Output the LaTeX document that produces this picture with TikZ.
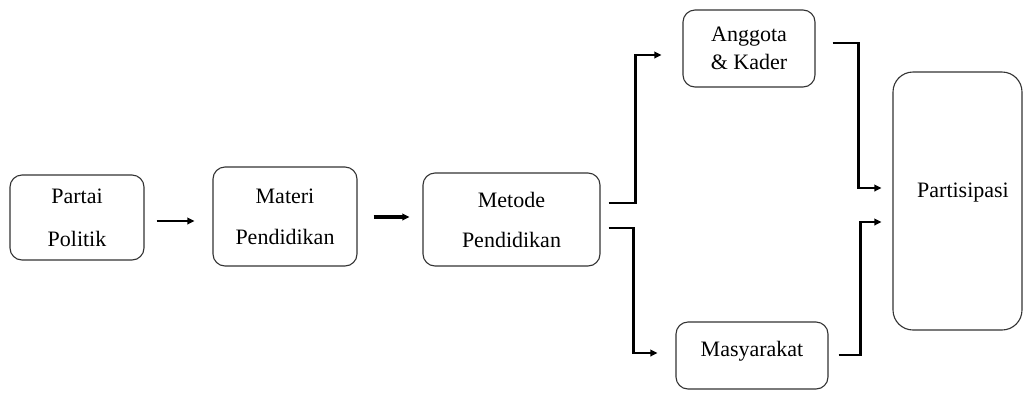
\documentclass[tikz,border=0pt]{standalone}
\usepackage{fontspec}
\setmainfont{Liberation Serif}
\usetikzlibrary{arrows.meta}
\begin{document}
\begin{tikzpicture}[x=1pt,y=-1pt,
  box/.style={draw=black!80, line width=1.1pt, rounded corners=12pt, inner sep=0pt, align=center},
  txt/.style={inner sep=0pt, align=center},
  conn/.style={line width=2.6pt, -{Triangle[length=7pt,width=6.5pt]}},
]
\useasboundingbox (0,0) rectangle (1026,392);
\fill[white] (0,0) rectangle (1026,392);

\node[box, minimum width=134pt, minimum height=85pt, font=\fontsize{22}{43}\selectfont] (pp) at (77,217.5) {Partai\\Politik};
\node[box, minimum width=144pt, minimum height=99pt, font=\fontsize{22}{41}\selectfont] (mat) at (285,216.5) {Materi\\Pendidikan};
\node[box, minimum width=177pt, minimum height=93pt, font=\fontsize{22}{40}\selectfont] (met) at (511.5,219.5) {Metode\\Pendidikan};
\node[box, minimum width=132pt, minimum height=77pt, font=\fontsize{22}{28}\selectfont] (ang) at (749,48.5) {Anggota\\\& Kader};
\node[box, minimum width=152pt, minimum height=67pt] (mas) at (752,355.5) {};
\node[txt, font=\fontsize{22}{24}\selectfont] (mastxt) at (752,351) {Masyarakat};
\node[box, rounded corners=20pt, minimum width=129pt, minimum height=258pt] (part) at (957.5,201) {};
\node[txt, font=\fontsize{22}{24}\selectfont] (parttxt) at (963,193) {Partisipasi};

\draw[conn, line width=2.8pt] ([shift={(12,3.5)}]pp.east) -- ([shift={(-18,4.5)}]mat.west);
\draw[conn, line width=3.4pt] ([shift={(16,0.5)}]mat.east) -- ([shift={(-13,-2.5)}]met.west);

\draw[conn] ([shift={(8,-16.5)}]met.east) -- ++(27,0) |- ([shift={(-21,6.5)}]ang.west);
\draw[conn] ([shift={(8,8.5)}]met.east) -- ++(25,0) |- ([shift={(-18,-2.5)}]mas.west);
\draw[conn] ([shift={(17,-5.5)}]ang.east) -- ++(26,0) |- ([shift={(-11,-13)}]part.west);
\draw[conn] ([shift={(10,-0.5)}]mas.east) -- ++(22,0) |- ([shift={(-11,21)}]part.west);
\end{tikzpicture}
\end{document}
